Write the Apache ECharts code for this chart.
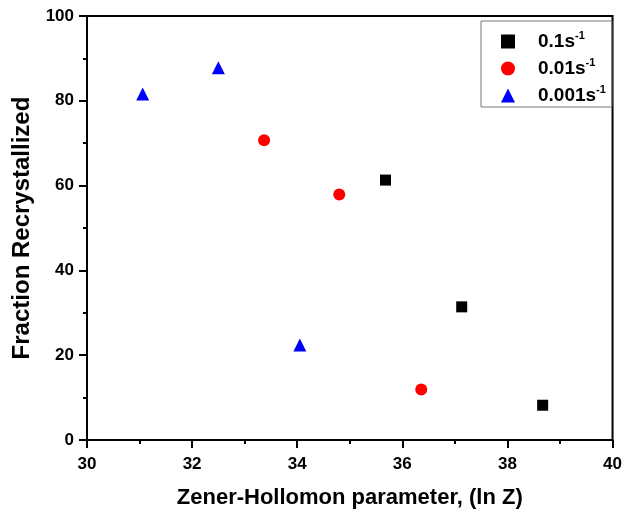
<!DOCTYPE html>
<html><head><meta charset="utf-8">
<script src="https://cdn.jsdelivr.net/npm/echarts@6/dist/echarts.min.js"></script>
<style>html,body{margin:0;padding:0;background:#fff}#c{width:625px;height:516px}</style>
</head><body><div id="c"></div>
<script>
const xTicks = [30, 32, 34, 36, 38, 40];
const yTicks = [0, 20, 40, 60, 80, 100];
const names = ['0.1', '0.01', '0.001'];
const s01 = [[35.68, 61.3], [37.13, 31.4], [38.67, 8.2]];
const s001 = [[33.37, 70.7], [34.80, 57.9], [36.36, 11.9]];
const s0001 = [[31.06, 81.6], [32.50, 87.8], [34.05, 22.4]];
const xTitle = 'Zener-Hollomon parameter, (ln Z)';
const yTitle = 'Fraction Recrystallized';

const chart = echarts.init(document.getElementById('c'), null, {renderer: 'canvas'});
const FONT = 'Liberation Sans, Arial, sans-serif';
const axisCommon = {
  axisLine: {lineStyle: {color: '#000', width: 2}},
  axisTick: {show: true, inside: false, length: 8, lineStyle: {color: '#000', width: 2}},
  minorTick: {show: true, splitNumber: 2, length: 4, lineStyle: {color: '#000', width: 2}},
  splitLine: {show: false},
  axisLabel: {color: '#000', fontFamily: FONT, fontWeight: 'bold', fontSize: 17}
};
chart.setOption({
  backgroundColor: '#fff',
  animation: false,
  grid: {left: 87, right: 10, top: 16, bottom: 76, show: true, borderColor: '#000', borderWidth: 2},
  xAxis: Object.assign({}, axisCommon, {
    type: 'value', min: xTicks[0], max: xTicks[xTicks.length - 1], interval: xTicks[1] - xTicks[0],
    name: xTitle, nameLocation: 'middle', nameGap: 47,
    nameTextStyle: {color: '#000', fontFamily: FONT, fontWeight: 'bold', fontSize: 22},
    axisLabel: Object.assign({}, axisCommon.axisLabel, {margin: 16})
  }),
  yAxis: Object.assign({}, axisCommon, {
    type: 'value', min: yTicks[0], max: yTicks[yTicks.length - 1], interval: yTicks[1] - yTicks[0],
    name: yTitle, nameLocation: 'middle', nameGap: 53,
    nameTextStyle: {color: '#000', fontFamily: FONT, fontWeight: 'bold', fontSize: 24},
    axisLabel: Object.assign({}, axisCommon.axisLabel, {margin: 13})
  }),
  legend: {
    orient: 'vertical', left: 481, top: 21,
    padding: [9, 6, 2, 20],
    itemGap: 6, itemWidth: 14, itemHeight: 14,
    borderColor: '#777', borderWidth: 1,
    formatter: function (n) { return '{a|' + n + 's}{b|-1}'; },
    textStyle: {
      rich: {
        a: {fontFamily: FONT, fontWeight: 'bold', fontSize: 19, color: '#000', padding: [0, 0, 0, 18]},
        b: {fontFamily: FONT, fontWeight: 'bold', fontSize: 11, color: '#000', padding: [0, 0, 12, 0]}
      }
    },
    data: names
  },
  series: [
    {name: names[0], type: 'scatter', symbol: 'rect', symbolSize: 11, itemStyle: {color: '#000', opacity: 1}, data: s01},
    {name: names[1], type: 'scatter', symbol: 'circle', symbolSize: 12, itemStyle: {color: '#ff0000', opacity: 1}, data: s001},
    {name: names[2], type: 'scatter', symbol: 'triangle', symbolSize: 13, itemStyle: {color: '#0000ff', opacity: 1}, data: s0001}
  ]
});
</script></body></html>
